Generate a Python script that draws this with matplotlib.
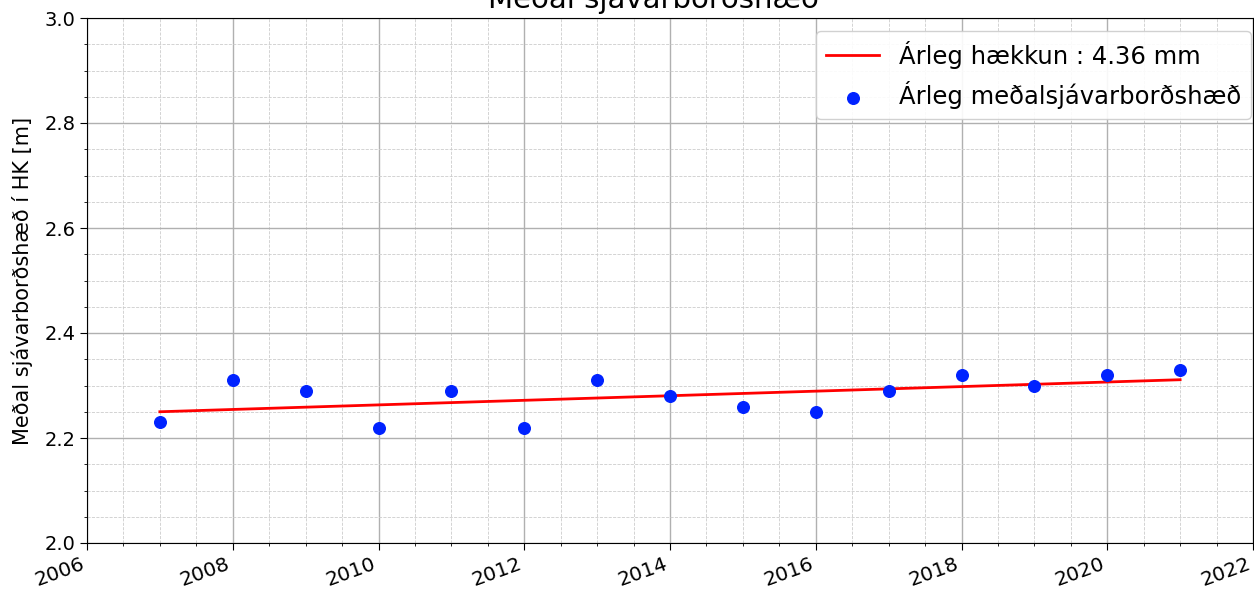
import matplotlib
matplotlib.use('Agg')
import matplotlib.pyplot as plt
from matplotlib.ticker import MultipleLocator

# Annual mean sea level (m, HK datum)
years = [2007, 2008, 2009, 2010, 2011, 2012, 2013, 2014,
         2015, 2016, 2017, 2018, 2019, 2020, 2021]
mean_level = [2.23, 2.31, 2.29, 2.22, 2.29, 2.22, 2.31, 2.28,
              2.26, 2.25, 2.29, 2.32, 2.30, 2.32, 2.33]

# Linear trend endpoints (first and last year)
trend_years = [2007, 2021]
trend_level = [2.250, 2.311]
trend_label = 'Árleg hækkun : 4.36 mm'
points_label = 'Árleg meðalsjávarborðshæð'

fig = plt.figure(figsize=(12.54, 5.89), dpi=100)
ax = fig.add_axes([87 / 1254, 46 / 589, 1166 / 1254, 525 / 589])

ax.plot(trend_years, trend_level, color='red', lw=2, label=trend_label, zorder=3)
ax.scatter(years, mean_level, s=70, color='#0022ff', label=points_label, zorder=4)

ax.set_xlim(2006, 2022)
ax.set_ylim(2.0, 3.0)
ax.xaxis.set_major_locator(MultipleLocator(2))
ax.xaxis.set_minor_locator(MultipleLocator(0.5))
ax.yaxis.set_major_locator(MultipleLocator(0.2))
ax.yaxis.set_minor_locator(MultipleLocator(0.05))
ax.set_xticks(range(2006, 2023, 2))
ax.set_xticklabels([str(y) for y in range(2006, 2023, 2)],
                   rotation=20, ha='right', fontsize=14.5)
ax.tick_params(axis='y', labelsize=14)
ax.tick_params(axis='x', pad=3)
ax.tick_params(which='major', length=5)

ax.grid(which='major', color='#b0b0b0', lw=1.0)
ax.grid(which='minor', color='#cccccc', lw=0.6, ls='--')
ax.set_axisbelow(True)

ax.set_ylabel('Meðal sjávarborðshæð í HK [m]', fontsize=15, labelpad=8)
ax.set_title('Meðal sjávarborðshæð', fontsize=21, pad=7, x=0.486)

ax.legend(loc='upper right', bbox_to_anchor=(0.998, 0.975), fontsize=17.5,
          framealpha=0.9, borderpad=0.4, handlelength=2.2, borderaxespad=0.0)

fig.savefig('out.png', dpi=100, facecolor='white')
